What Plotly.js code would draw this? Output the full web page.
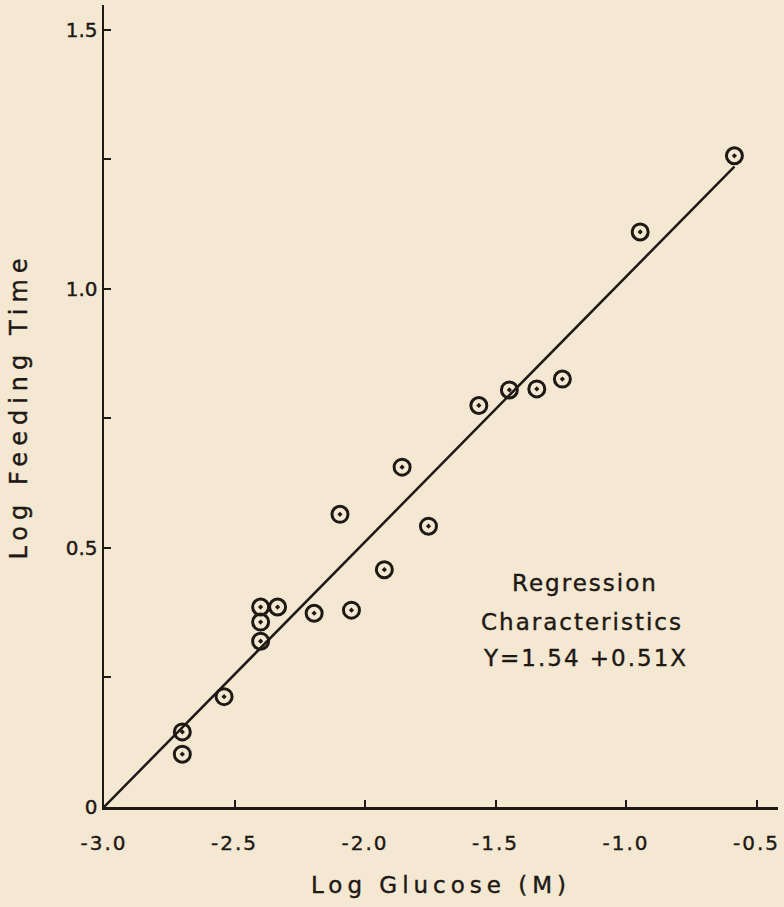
<!DOCTYPE html>
<html>
<head>
<meta charset="utf-8">
<script src="https://cdn.plot.ly/plotly-3.0.1.min.js"></script>
<style>
  html, body { margin: 0; padding: 0; background: #f4e8d2; }
  #chart { width: 784px; height: 907px; }
  .xtitle { letter-spacing: 5px; }
  .ytitle { letter-spacing: 6px; }
  .annotation-text { letter-spacing: 2px; }
  .xtick text { letter-spacing: 2px; }
  svg text { stroke: #1e1915; stroke-width: 0.4px; }
</style>
</head>
<body>
<div id="chart"></div>
<script>
// Observed points: log glucose (M) vs log feeding time
const logGlucose = [-2.70, -2.70, -2.54, -2.40, -2.40, -2.40, -2.335, -2.195, -2.052, -1.926,
                    -2.096, -1.757, -1.858, -1.564, -1.447, -1.342, -1.244, -0.946, -0.585];
const logFeeding = [0.145, 0.102, 0.213, 0.320, 0.357, 0.386, 0.386, 0.374, 0.380, 0.458,
                    0.565, 0.542, 0.656, 0.775, 0.805, 0.807, 0.826, 1.110, 1.257];

// Regression line end points (Y = 1.54 + 0.51X)
const lineX = [-3.0, -0.585];
const lineY = [0.0, 1.236];

// Axis ticks
const xTickVals = [-3.0, -2.5, -2.0, -1.5, -1.0, -0.5];
const xTickText = ["-3.0", "-2.5", "-2.0", "-1.5", "-1.0", "-0.5"];
const yTickVals = [0, 0.25, 0.5, 0.75, 1.0, 1.25, 1.5];
const yTickText = ["0", "", "0.5", "", "1.0", "", "1.5"];

const ink = "#1e1915";
const bg = "#f4e8d2";
const font = "DejaVu Sans, sans-serif";

const traces = [
  {
    x: lineX, y: lineY, mode: "lines", type: "scatter",
    line: { color: ink, width: 2.5 }, hoverinfo: "skip", showlegend: false
  },
  {
    x: logGlucose, y: logFeeding, mode: "markers", type: "scatter",
    marker: { symbol: "circle-open-dot", size: 16, color: ink, line: { color: ink, width: 3 } },
    showlegend: false
  }
];

const layout = {
  width: 784, height: 907,
  paper_bgcolor: bg, plot_bgcolor: bg,
  margin: { l: 104, r: 6, t: 5, b: 100 },
  font: { family: font, color: ink, size: 20 },
  showlegend: false,
  xaxis: {
    range: [-3.0, -0.418], showgrid: false, zeroline: false,
    showline: true, linecolor: ink, linewidth: 2.5, mirror: false,
    ticks: "inside", ticklen: 7, tickwidth: 2, tickcolor: ink,
    tickmode: "array", tickvals: xTickVals, ticktext: xTickText,
    tickfont: { family: font, size: 20, color: ink },
    ticklabelstandoff: 16,
    title: { text: "Log Glucose (M)", font: { family: font, size: 23, color: ink }, standoff: 24 }
  },
  yaxis: {
    range: [0, 1.548], showgrid: false, zeroline: false,
    showline: true, linecolor: ink, linewidth: 2.5, mirror: false,
    ticks: "inside", ticklen: 7, tickwidth: 2, tickcolor: ink,
    tickmode: "array", tickvals: yTickVals, ticktext: yTickText,
    tickfont: { family: font, size: 20, color: ink },
    ticklabelstandoff: 0,
    title: { text: "Log Feeding Time", font: { family: font, size: 24, color: ink }, standoff: 32 }
  },
  annotations: [
    { x: -1.157, y: 0.432, xref: "x", yref: "y", text: "Regression", showarrow: false,
      font: { family: font, size: 23, color: ink } },
    { x: -1.170, y: 0.357, xref: "x", yref: "y", text: "Characteristics", showarrow: false,
      font: { family: font, size: 23, color: ink } },
    { x: -1.157, y: 0.288, xref: "x", yref: "y", text: "Y=1.54 +0.51X", showarrow: false,
      font: { family: font, size: 23, color: ink } }
  ]
};

Plotly.newPlot("chart", traces, layout, { displayModeBar: false, staticPlot: true });
</script>
</body>
</html>
